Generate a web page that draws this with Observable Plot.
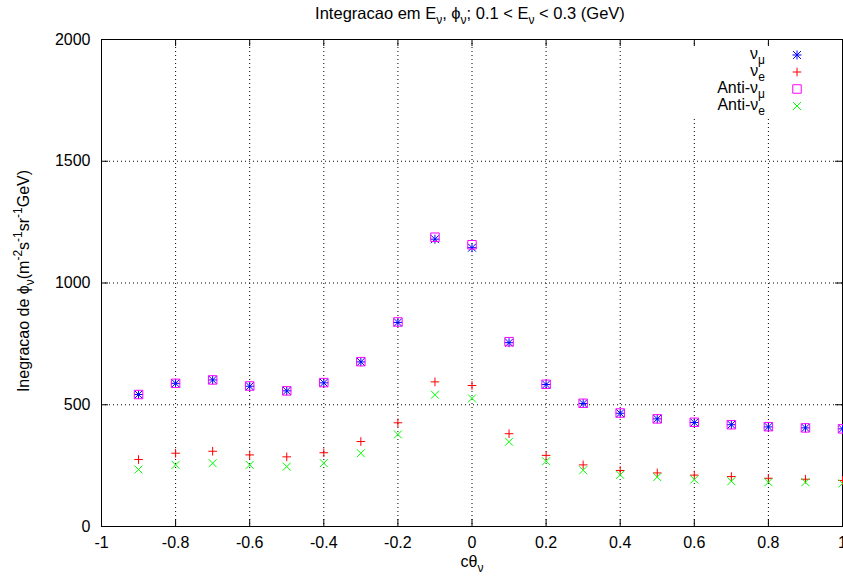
<!DOCTYPE html>
<html><head><meta charset="utf-8">
<script src="https://cdn.jsdelivr.net/npm/d3@7"></script>
<script src="https://cdn.jsdelivr.net/npm/@observablehq/plot@0.6"></script>
<style>body{margin:0;background:#fff} svg{display:block}</style>
</head><body><div id="chart"></div>
<script>
const cth      = [-0.9,-0.8,-0.7,-0.6,-0.5,-0.4,-0.3,-0.2,-0.1,0,0.1,0.2,0.3,0.4,0.5,0.6,0.7,0.8,0.9,1.0];
const numu     = [542,588,602,576,557,590,676,838,1180,1145,755,583,505,465,442,427,418,409,405,401];
const nue      = [275,301,309,294,286,303,349,426,594,579,381,292,253,230,220,211,205,198,194,189];
const antinumu = [542,588,602,577,557,591,677,840,1188,1157,759,584,506,466,442,428,418,410,405,401];
const antinue  = [234,253,260,253,246,260,301,378,541,526,348,268,231,212,203,193,186,182,182,177];
const xTicks = [-1,-0.8,-0.6,-0.4,-0.2,0,0.2,0.4,0.6,0.8,1];
const xTickLabels = ["-1","-0.8","-0.6","-0.4","-0.2","0","0.2","0.4","0.6","0.8","1"];
const yTicks = [0,500,1000,1500,2000];
const yTickLabels = ["0","500","1000","1500","2000"];

const W=843,H=584,mL=101,mR=1,mT=39,mB=58;
const fw=W-mL-mR, fh=H-mT-mB;
const F="'Liberation Sans', Arial, Helvetica, sans-serif";
const FS=16;
const rows = ys => cth.map((x,i)=>({x, y: ys[i]}));
const gridStyle = {stroke:"#000", strokeOpacity:1, strokeWidth:1, strokeDasharray:"1,3"};

const series = [
  {label:[["ν",""],["μ","sub"]], data:numu, stroke:"#0000ff", syms:[["plus",3.0],["times",3.7]]},
  {label:[["ν",""],["e","sub"]], data:nue, stroke:"#ff0000", syms:[["plus",2.9]]},
  {label:[["Anti-ν",""],["μ","sub"]], data:antinumu, stroke:"#ff00ff", syms:[["square2",5.4]]},
  {label:[["Anti-ν",""],["e","sub"]], data:antinue, stroke:"#00ff00", syms:[["times",3.7]]}
];

const dotMarks = [];
for (const s of series) for (const [sym,r] of s.syms)
  dotMarks.push(Plot.dot(rows(s.data), {x:"x", y:"y", symbol:sym, r, stroke:s.stroke, strokeWidth:1, fill:"none"}));

const svg = Plot.plot({
  width:W, height:H, marginLeft:mL, marginRight:mR, marginTop:mT, marginBottom:mB,
  style:{fontFamily:F, fontSize:FS+"px", background:"#fff", color:"#000"},
  x:{domain:[-1,1], axis:null},
  y:{domain:[0,2000], axis:null},
  marks:[
    Plot.gridX(xTicks.slice(1,-1), gridStyle),
    Plot.gridY(yTicks.slice(1,-1), gridStyle),
    Plot.tickX(xTicks, {x:d=>d, insetTop:fh-7, stroke:"#000"}),
    Plot.tickX(xTicks, {x:d=>d, insetBottom:fh-7, stroke:"#000"}),
    Plot.tickY(yTicks, {y:d=>d, insetRight:fw-7, stroke:"#000"}),
    Plot.tickY(yTicks, {y:d=>d, insetLeft:fw-7, stroke:"#000"}),
    Plot.axisX(xTicks, {tickSize:0, tickPadding:10, fontSize:FS, label:null, tickFormat:d=>xTickLabels[xTicks.indexOf(d)]}),
    Plot.axisY(yTicks, {tickSize:0, tickPadding:11, fontSize:FS, label:null, tickFormat:d=>yTickLabels[yTicks.indexOf(d)]}),
    Plot.frame({stroke:"#000", strokeWidth:1}),
    ...dotMarks
  ]
});
document.getElementById("chart").appendChild(svg);

const root = d3.select(svg);
function richText(g, parts, fs, subFs){
  const t = g.append("text").attr("font-family",F).attr("font-size",fs).attr("fill","#000");
  let shift=0;
  for (const [str,type] of parts){
    const target = type==="sub"? 5 : type==="sup"? -7 : 0;
    t.append("tspan").attr("dy", target-shift).attr("font-size", type? subFs: fs).text(str);
    shift=target;
  }
  return t;
}
// title
richText(root.append("g"), [["Integracao em E",""],["ν","sub"],[", ϕ",""],["ν","sub"],["; 0.1 < E",""],["ν","sub"],[" < 0.3 (GeV)",""]], 16.5, 12)
  .attr("x",470).attr("y",19).attr("text-anchor","middle");
// x label
richText(root.append("g"), [["cθ",""],["ν","sub"]], FS, 12)
  .attr("x",472).attr("y",567).attr("text-anchor","middle");
// y label
richText(root.append("g").attr("transform","translate(29,281) rotate(-90)"),
  [["Inegracao de ϕ",""],["ν","sub"],["(m",""],["-2","sup"],["s",""],["-1","sup"],["sr",""],["-1","sup"],["GeV)",""]], FS, 12)
  .attr("x",0).attr("y",0).attr("text-anchor","middle");
// legend
root.append("rect").attr("x",686).attr("y",46).attr("width",150).attr("height",70).attr("fill","#fff");
const symMap = {plus:d3.symbolPlus, times:d3.symbolTimes, square2:d3.symbolSquare2};
series.forEach((s,i)=>{
  const cy = 55 + i*17;
  richText(root.append("g"), s.label, FS, 12).attr("x",765).attr("y",cy+4).attr("text-anchor","end");
  for (const [sym,r] of s.syms)
    root.append("path").attr("transform",`translate(797,${cy})`)
      .attr("d", d3.symbol(symMap[sym], Math.PI*r*r)()).attr("fill","none").attr("stroke",s.stroke);
});
</script></body></html>
